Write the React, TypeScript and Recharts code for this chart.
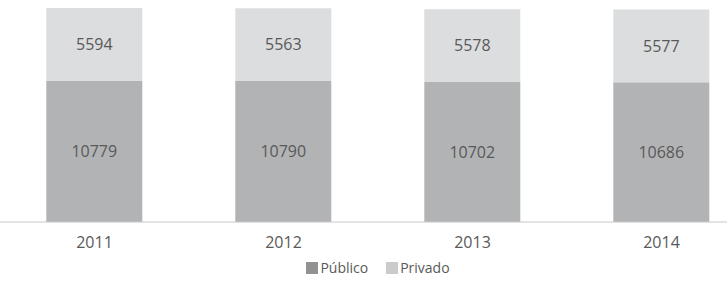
import { BarChart, Bar, XAxis, YAxis, Legend, LabelList } from "recharts"

const years = ["2011", "2012", "2013", "2014"]
const publico = [10779, 10790, 10702, 10686]
const privado = [5594, 5563, 5578, 5577]

const series = [
  { key: "publico", name: "Público", fill: "#b2b3b5", swatch: "#929292" },
  { key: "privado", name: "Privado", fill: "#dcdddf", swatch: "#cbcbcb" },
]

const data = years.map((year, i) => ({
  year,
  publico: publico[i],
  privado: privado[i],
}))

const textColor = "#595959"
const font = "'Open Sans', sans-serif"

function LegendContent() {
  return (
    <div style={{ display: "flex", justifyContent: "center", gap: 18, fontFamily: font, fontSize: 14, color: textColor }}>
      {series.map((s) => (
        <span key={s.key} style={{ display: "flex", alignItems: "center" }}>
          <span style={{ display: "inline-block", width: 12, height: 12, background: s.swatch, marginRight: 2 }} />
          {s.name}
        </span>
      ))}
    </div>
  )
}

export default function App() {
  return (
    <div style={{ position: "fixed", left: 0, top: 0, width: 727, height: 281, overflow: "hidden", background: "#fff" }}>
      <BarChart width={756} height={281} data={data} margin={{ top: 8, right: 0, left: 0, bottom: 4 }} barCategoryGap="24.5%">
        <XAxis
          dataKey="year"
          axisLine={{ stroke: "#c8c8c8" }}
          tickLine={false}
          height={36}
          dy={7}
          tick={{ fontSize: 16, fill: textColor, fontFamily: font }}
        />
        <YAxis hide domain={[0, "dataMax"]} />
        <Legend verticalAlign="bottom" content={<LegendContent />} />
        {series.map((s) => (
          <Bar key={s.key} dataKey={s.key} name={s.name} stackId="a" fill={s.fill} isAnimationActive={false}>
            <LabelList dataKey={s.key} position="center" style={{ fontSize: 16, fill: textColor, fontFamily: font }} />
          </Bar>
        ))}
      </BarChart>
    </div>
  )
}
